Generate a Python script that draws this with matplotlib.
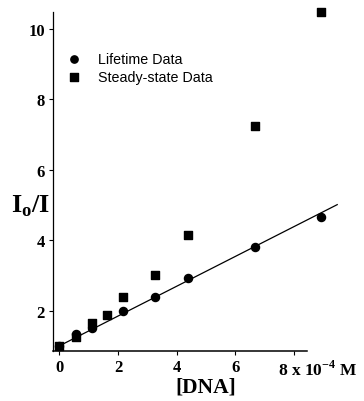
import matplotlib
matplotlib.use("Agg")
import matplotlib.pyplot as plt
import matplotlib.transforms as mtransforms
import numpy as np

# lifetime data (circles)
dna_life = [0.0, 0.56, 1.10, 2.18, 3.27, 4.40, 6.67, 8.91]
ratio_life = [1.0, 1.34, 1.50, 2.00, 2.39, 2.92, 3.82, 4.65]

# steady-state data (squares)
dna_ss = [0.0, 0.56, 1.10, 1.63, 2.18, 3.27, 4.40, 6.67, 8.91]
ratio_ss = [1.0, 1.24, 1.64, 1.88, 2.38, 3.01, 4.16, 7.25, 10.47]

# linear fit through lifetime data
fit_x = [0.0, 9.48]
fit_intercept = 1.0
fit_slope = 0.423

xticks = [0, 2, 4, 6, 8]
xticklabels = ["0", "2", "4", "6", "8 x 10$^{\\mathregular{-4}}$ M"]
yticks = [2, 4, 6, 8, 10]

serif = ["Liberation Serif", "DejaVu Serif"]

fig = plt.figure(figsize=(3.64, 4.02), dpi=100)
ax = fig.add_axes([0.1465, 0.125, 0.697, 0.8425])

fx = np.array(fit_x)
ax.plot(fx, fit_intercept + fit_slope * fx, color="black", lw=0.9, clip_on=False)
ax.scatter(dna_life, ratio_life, marker="o", s=34, color="black",
           label="Lifetime Data", clip_on=False, zorder=3)
ax.scatter(dna_ss, ratio_ss, marker="s", s=40, color="black",
           label="Steady-state Data", clip_on=False, zorder=3)

ax.set_xlim(-0.21, 8.45)
ax.set_ylim(0.86, 10.48)

ax.spines["top"].set_visible(False)
ax.spines["right"].set_visible(False)
ax.spines["left"].set_linewidth(0.9)
ax.spines["bottom"].set_linewidth(1.1)

ax.set_xticks(xticks)
ax.set_xticklabels(xticklabels)
ax.set_yticks(yticks)
ax.tick_params(direction="out", length=3, width=0.8, pad=3)
for lab in ax.get_xticklabels() + ax.get_yticklabels():
    lab.set_family(serif)
    lab.set_fontweight("bold")
    lab.set_fontsize(12)
ax.get_xticklabels()[-1].set_fontsize(12.5)

# shift the last x label so it reads "8 x 10-4 M" to the right of the tick
last = ax.get_xticklabels()[-1]
last.set_horizontalalignment("left")
last.set_transform(last.get_transform() +
                   mtransforms.ScaledTranslation(-16 / 100, 0, fig.dpi_scale_trans))

ax.set_xlabel("[DNA]", family=serif, fontweight="bold", fontsize=15.5,
              ha="center", va="center")
ax.xaxis.set_label_coords(0.6, -0.107)
ax.set_ylabel("I$_{\\mathregular{o}}$/I", family=serif, fontweight="bold",
              fontsize=19, rotation=0, ha="center", va="center")
ax.yaxis.set_label_coords(-0.088, 0.43)

leg = ax.legend(loc="upper left", bbox_to_anchor=(-0.014, 0.912), frameon=False,
                prop={"family": "Liberation Sans", "size": 10.3},
                handletextpad=0.7, labelspacing=0.3, borderpad=0.2,
                markerscale=0.9)

fig.savefig("out.png", dpi=100)
